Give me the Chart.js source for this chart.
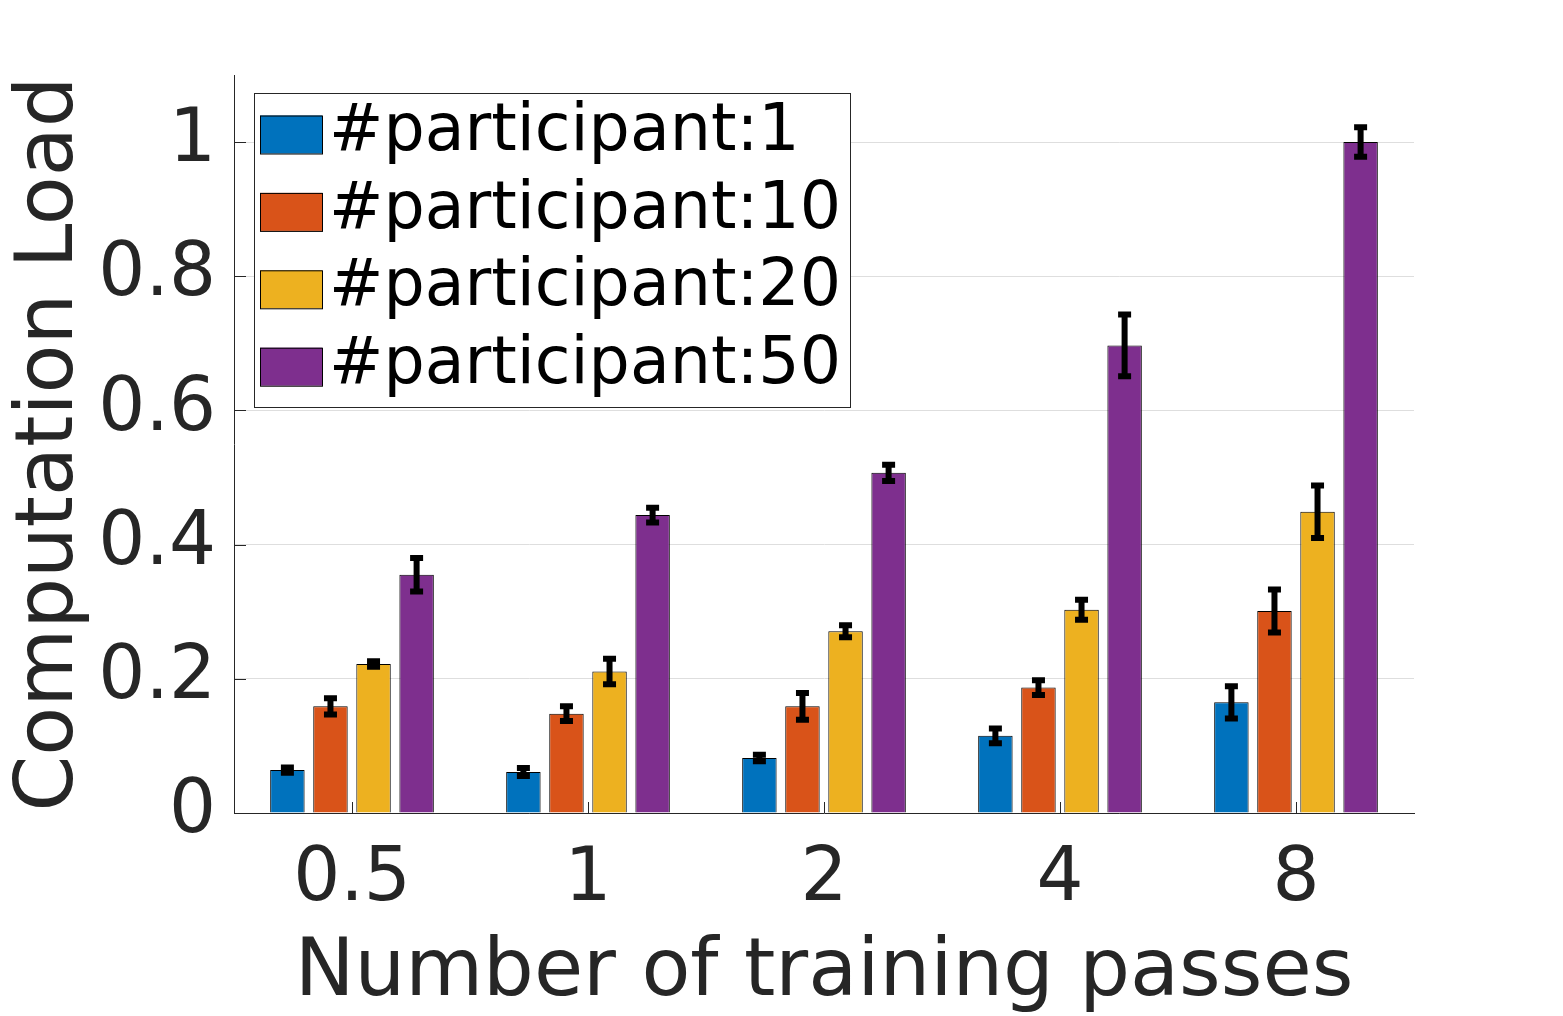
<!DOCTYPE html>
<html>
<head>
<meta charset="utf-8">
<title>Computation Load</title>
<script src="https://cdn.jsdelivr.net/npm/chart.js@4/dist/chart.umd.min.js"></script>
<style>
  html, body { margin: 0; padding: 0; background: #fff; }
  canvas { display: block; }
</style>
</head>
<body>
<canvas id="chart" width="1563" height="1016"></canvas>
<script>
"use strict";

// data
const passes = ["0.5", "1", "2", "4", "8"];
const seriesNames = ["#participant:1", "#participant:10", "#participant:20", "#participant:50"];
const load1 = [0.064, 0.061, 0.082, 0.115, 0.165];
const load10 = [0.159, 0.148, 0.159, 0.187, 0.301];
const load20 = [0.222, 0.211, 0.271, 0.303, 0.449];
const load50 = [0.355, 0.444, 0.507, 0.697, 1.0];
const err1 = [0.004, 0.006, 0.005, 0.011, 0.024];
const err10 = [0.012, 0.011, 0.020, 0.011, 0.032];
const err20 = [0.004, 0.019, 0.009, 0.015, 0.039];
const err50 = [0.025, 0.011, 0.012, 0.046, 0.022];
const yTicks = [0, 0.2, 0.4, 0.6, 0.8, 1];

const colors = ["#0072BD", "#D95319", "#EDB120", "#7E2F8E"];
const axisColor = "#262626";

Chart.defaults.font.family = "'DejaVu Sans', sans-serif";

//error bars, drawn through the y scale
const errorBars = {
  id: "errorBars",
  afterDatasetsDraw(chart) {
    const ctx = chart.ctx;
    const y = chart.scales.y;
    ctx.save();
    ctx.strokeStyle = "#000";
    ctx.lineWidth = 6;
    chart.data.datasets.forEach((ds, i) => {
      chart.getDatasetMeta(i).data.forEach((bar, j) => {
        const hi = y.getPixelForValue(ds.data[j] + ds.errors[j]);
        const lo = y.getPixelForValue(ds.data[j] - ds.errors[j]);
        ctx.beginPath();
        ctx.moveTo(bar.x, hi);
        ctx.lineTo(bar.x, lo);
        ctx.moveTo(bar.x - 6.5, hi);
        ctx.lineTo(bar.x + 6.5, hi);
        ctx.moveTo(bar.x - 6.5, lo);
        ctx.lineTo(bar.x + 6.5, lo);
        ctx.stroke();
      });
    });
    ctx.restore();
  },
};

//inward tick marks like matlab
const innerTicks = {
  id: "innerTicks",
  afterDatasetsDraw(chart) {
    const ctx = chart.ctx;
    const { x, y } = chart.scales;
    const area = chart.chartArea;
    ctx.save();
    ctx.strokeStyle = axisColor;
    ctx.lineWidth = 1;
    ctx.beginPath();
    yTicks.forEach((v) => {
      const py = Math.round(y.getPixelForValue(v)) + 0.5;
      ctx.moveTo(area.left, py);
      ctx.lineTo(area.left + 12, py);
    });
    passes.forEach((p, i) => {
      const px = Math.round(x.getPixelForTick(i)) + 0.5;
      ctx.moveTo(px, area.bottom);
      ctx.lineTo(px, area.bottom - 11);
    });
    ctx.stroke();
    ctx.restore();
  },
};

//boxed legend in the top left corner of the plot
const boxLegend = {
  id: "boxLegend",
  afterDraw(chart) {
    const ctx = chart.ctx;
    const area = chart.chartArea;
    const left = area.left + 20;
    const top = area.top + 18;
    ctx.save();
    ctx.fillStyle = "#fff";
    ctx.fillRect(left, top, 596, 314);
    ctx.strokeStyle = axisColor;
    ctx.lineWidth = 1;
    ctx.strokeRect(left + 0.5, top + 0.5, 596, 314);
    ctx.font = "65px 'DejaVu Sans'";
    ctx.textBaseline = "middle";
    ctx.textAlign = "left";
    chart.data.datasets.forEach((ds, i) => {
      const cy = top + 41.5 + i * 77.4;
      ctx.fillStyle = ds.backgroundColor;
      ctx.fillRect(left + 6, cy - 19, 62, 38);
      ctx.strokeStyle = "#000";
      ctx.strokeRect(left + 6.5, cy - 18.5, 62, 38);
      ctx.fillStyle = "#000";
      ctx.fillText(ds.label, left + 75, cy - 1);
    });
    ctx.restore();
  },
};

const loads = [load1, load10, load20, load50];
const errs = [err1, err10, err20, err50];

new Chart(document.getElementById("chart"), {
  type: "bar",
  data: {
    labels: passes,
    datasets: seriesNames.map((name, i) => ({
      label: name,
      data: loads[i],
      errors: errs[i],
      backgroundColor: colors[i],
      borderColor: "#000",
      borderWidth: 1,
      barPercentage: 0.8,
      categoryPercentage: 0.73,
    })),
  },
  options: {
    responsive: false,
    animation: false,
    devicePixelRatio: 1,
    layout: { padding: { top: 75, right: 149, left: 0, bottom: 0 } },
    plugins: {
      legend: { display: false },
      tooltip: { enabled: false },
    },
    scales: {
      x: {
        grid: { display: false, drawTicks: false },
        border: { color: axisColor, width: 1 },
        ticks: { color: axisColor, font: { size: 74 }, padding: 23 },
        title: {
          display: true,
          text: "Number of training passes",
          color: axisColor,
          font: { size: 80 },
          padding: { top: 0, bottom: -6 },
        },
        afterFit(scale) {
          scale.height = 203;
        },
      },
      y: {
        min: 0,
        max: 1.1,
        afterBuildTicks(scale) {
          scale.ticks = yTicks.map((v) => ({ value: v }));
        },
        grid: { color: "#dedede", lineWidth: 1, drawTicks: false },
        border: { color: axisColor, width: 1 },
        ticks: {
          color: axisColor,
          font: { size: 74 },
          padding: 18,
          callback: (v) => String(v),
        },
        title: {
          display: true,
          text: "Computation Load",
          color: axisColor,
          font: { size: 80 },
          padding: { top: 3, bottom: 0 },
        },
        afterFit(scale) {
          scale.width = 234;
        },
      },
    },
  },
  plugins: [errorBars, innerTicks, boxLegend],
});
</script>
</body>
</html>
